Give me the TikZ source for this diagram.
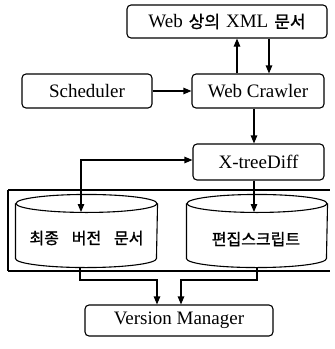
\documentclass[tikz,border=0pt]{standalone}
\usepackage{fontspec}
\setmainfont{Liberation Serif}
\newfontfamily\kr[FakeBold=1.2]{Noto Sans CJK KR}
\usetikzlibrary{arrows.meta}
\begin{document}
\begin{tikzpicture}[x=1pt,y=-1pt, line width=1.1pt,
  box/.style={draw, rounded corners=4pt, inner sep=0pt, font=\fontsize{19}{22}\selectfont},
  krtxt/.style={font=\kr\fontsize{16}{19}\selectfont, inner sep=0pt},
  arr/.style={-{Triangle[length=8pt,width=6.5pt]}},
  arrb/.style={{Triangle[length=8pt,width=6.5pt]}-{Triangle[length=8pt,width=6.5pt]}},
  cylbox/.style={minimum width=#1, minimum height=72pt, inner sep=0pt}]
\useasboundingbox (0,0) rectangle (335,349);
% boxes
\node[box, minimum width=200pt, minimum height=33pt] (xml) at (227,21.5)
  {Web\hspace{6pt}{\kr\fontsize{17}{20}\selectfont 상의}\hspace{6pt}XML\hspace{6pt}{\kr\fontsize{17}{20}\selectfont 문서}};
\node[box, minimum width=130pt, minimum height=34pt] (sched) at (87,91) {Scheduler};
\node[box, minimum width=132pt, minimum height=34pt] (crawl) at (258,91) {Web Crawler};
\node[box, minimum width=131pt, minimum height=36pt] (xtree) at (258.5,162) {X-treeDiff};
\node[box, minimum width=188pt, minimum height=31pt] (vm) at (179,320.5) {Version Manager};
% container (open at the right edge of the picture)
\draw[line cap=butt] (8,190) -- (330,190);
\draw[line cap=butt] (8,190) -- (8,271);
\draw[line cap=butt] (8,271) -- (330,271);
% cylinders
\node[cylbox=141pt] (cyl1) at (86.5,231) {};
\node[cylbox=140pt] (cyl2) at (257,231) {};
\foreach \c/\r in {cyl1/70.5pt, cyl2/70pt}{
  \draw[fill=white] ([yshift=-9pt]\c.north west) -- ([yshift=9pt]\c.south west)
     arc[start angle=180, end angle=360, x radius=\r, y radius=9pt]
     -- ([yshift=-9pt]\c.north east);
  \draw ([yshift=-9pt]\c.north) ellipse[x radius=\r, y radius=9pt];
}
\node[krtxt] (cyl1t) at (86.5,238) {최종\hspace{0.8em}버전\hspace{0.8em}문서};
\node[krtxt] (cyl2t) at (256,239) {편집스크립트};
% connector helper coordinates
\coordinate (a1) at (237,0);
\coordinate (a2) at (269,0);
\coordinate (c1) at (254,0);
\coordinate (cyl2in) at (254,212);
\coordinate (cyl1in) at (81,212);
\coordinate (o1) at (80,280);
\coordinate (o2) at (257,280);
\coordinate (m1) at (157,0);
\coordinate (m2) at (181,0);
% connectors
\draw[arr] (crawl.north -| a1) -- (xml.south -| a1);
\draw[arr] (xml.south -| a2) -- (crawl.north -| a2);
\draw[arr] (sched) -- (crawl);
\draw[arr] (crawl.south -| c1) -- (xtree.north -| c1);
\draw[arr] (xtree.south -| c1) -- (cyl2in);
\draw[arrb] (cyl1in) |- ([yshift=2pt]xtree.west);
\draw[arr] (cyl1.south -| o1) -- (o1) -| (vm.north -| m1);
\draw[arr] (cyl2.south -| o2) -- (o2) -| (vm.north -| m2);
\end{tikzpicture}
\end{document}
